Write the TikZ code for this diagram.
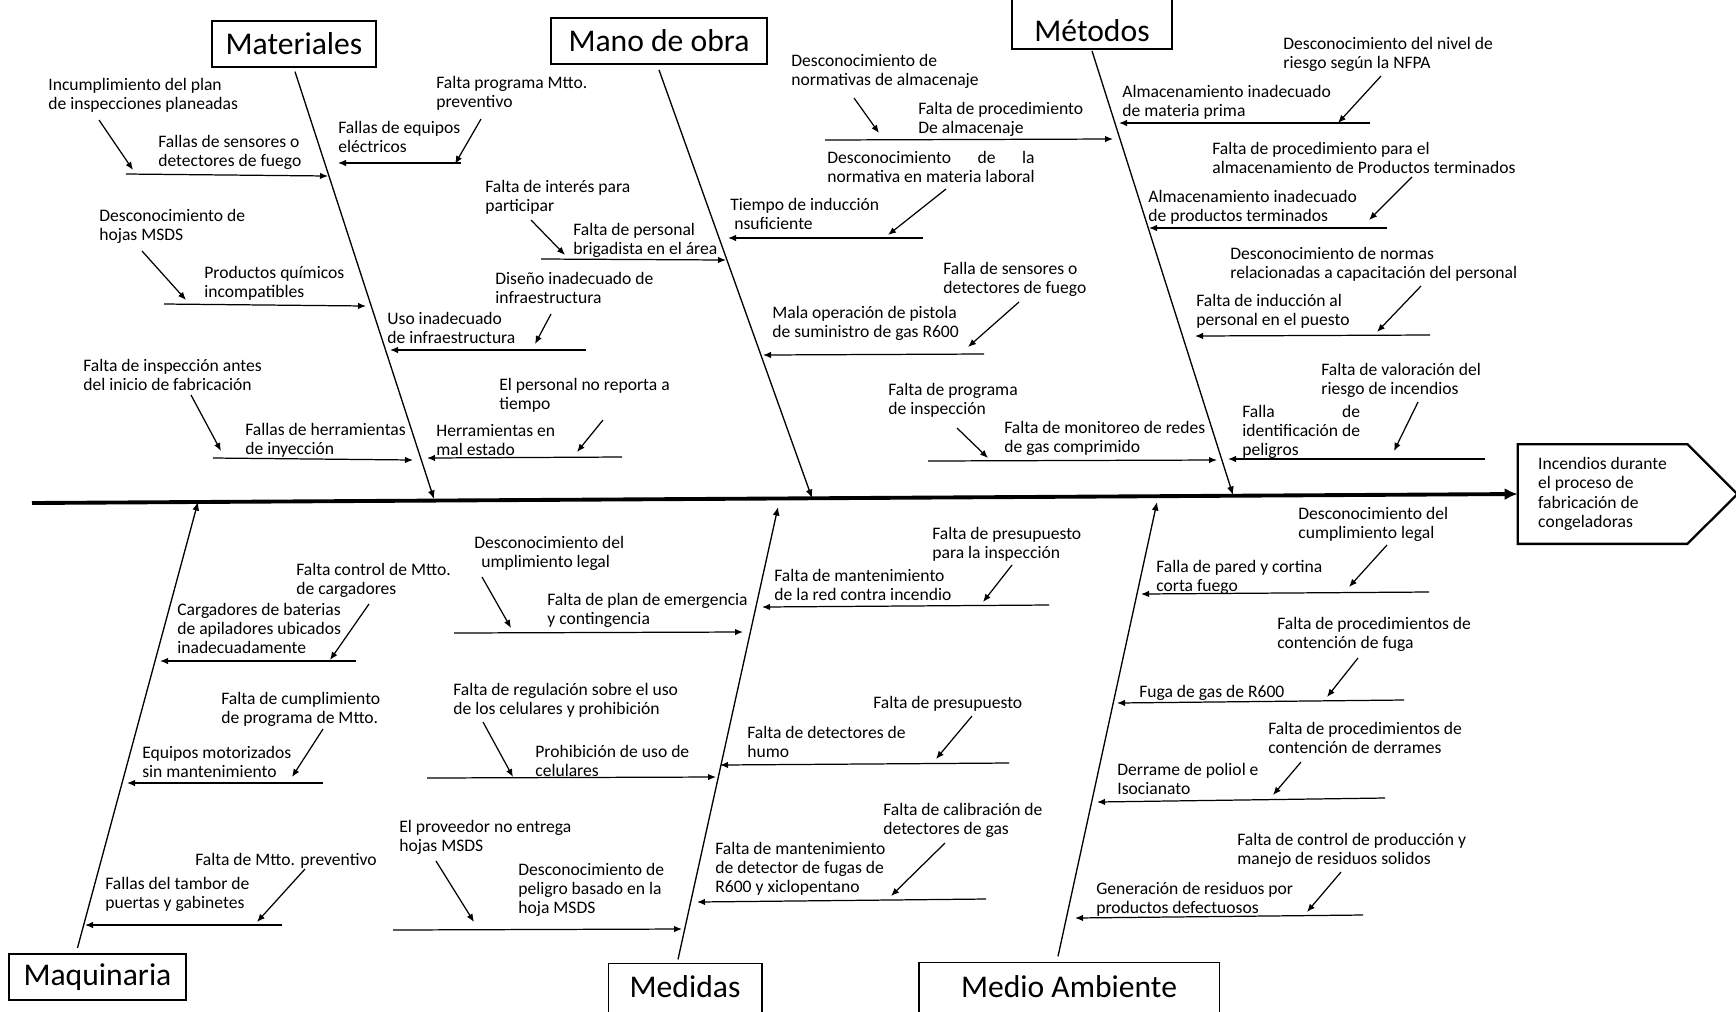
\documentclass[tikz,border=0pt]{standalone}
\usepackage{fontspec}
\setmainfont{Carlito}
\usepackage{calc}
\usetikzlibrary{arrows.meta}

\begin{document}
\begin{tikzpicture}[x=0.2mm,y=-0.2mm,
    causa/.style={font=\fontsize{10}{10.8}\selectfont,align=left,inner sep=0pt,anchor=north west},
    categoria/.style={font=\fontsize{18}{20}\selectfont,inner sep=0pt,line width=1pt},
    hueso/.style={line width=0.75pt,-{Latex[length=1.7mm,width=1.4mm]}},
    rama/.style={line width=0.7pt,-{Latex[length=1.6mm,width=1.3mm]}},
    flecha/.style={line width=0.7pt,-{Latex[length=1.6mm,width=1.3mm]}},
    espina/.style={line width=2.2pt,-{Latex[length=2.6mm,width=2.4mm]}}]
        \useasboundingbox (0,0) rectangle (1736,1011);

        \node[categoria,draw,minimum width=32.8mm,minimum height=9.1mm] (mat) at (294,44) {Materiales};
        \node[categoria,draw,minimum width=43.2mm,minimum height=9.2mm] (man) at (659,41) {Mano de obra};
        \node[categoria,minimum width=31.6mm,minimum height=6.8mm] (met) at (1092,31) {Métodos};
        \draw[line width=1pt] (met.north west |- 0,-5) -- (met.south west) -- (met.south east) -- (met.north east |- 0,-5);
        \node[categoria,draw,minimum width=35.3mm,minimum height=9.3mm] (maq) at (97.5,977) {Maquinaria};
        \node[categoria,minimum width=30.3mm,minimum height=9.1mm] (med) at (685,987) {Medidas};
        \draw[line width=1pt] (med.south west |- 0,1016) -- (med.north west) -- (med.north east) -- (med.south east |- 0,1016);
        \node[categoria,minimum width=59.8mm,minimum height=9.5mm] (amb) at (1069,987) {Medio Ambiente};
        \draw[line width=1pt] (amb.south west |- 0,1016) -- (amb.north west) -- (amb.north east) -- (amb.south east |- 0,1016);

        \node[font=\fontsize{10}{11.1}\selectfont,align=left,inner sep=0pt,minimum width=33.8mm,minimum height=19.8mm] (efecto) at (1602.5,494) {Incendios durante\\el proceso de\\fabricación de\\congeladoras};
        \draw[line width=1.3pt] (efecto.north west) -- (efecto.north east) -- ++(50,50) -- (efecto.south east) -- (efecto.south west) -- cycle;

        \coordinate (cola) at (32,503);
        \draw[espina] (cola) -- (efecto.west);

        \coordinate (matF) at (434,499);
        \coordinate (manF) at (812,498);
        \coordinate (metF) at (1233,495);
        \coordinate (maqF) at (198,502);
        \coordinate (medF) at (778,507);
        \coordinate (ambF) at (1157,502);
        \draw[hueso] (mat.south) ++(1,4) -- (matF);
        \draw[hueso] (man.south) ++(0,5) -- (manF);
        \draw[hueso] (met.south) ++(0,2) -- (metF);
        \draw[hueso] (maq.north) ++(-20,-5) -- (maqF);
        \draw[hueso] (med.north) ++(-7,-4) -- (medF);
        \draw[hueso] (amb.north) ++(-11,-6) -- (ambF);

        \node[causa] (m1c) at (48,78) {Incumplimiento del plan\\de inspecciones planeadas};
        \node[causa] (m1) at (158,135) {Fallas de sensores o\\detectores de fuego};
        \coordinate (m1a) at (99,120); \coordinate (m1b) at (133,170); \coordinate (m1i) at (126,174); \coordinate (m1f) at (328,176);
        \draw[flecha] (m1a) -- (m1b); \draw[rama] (m1i) -- (m1f);

        \node[causa] (m2c) at (99,209) {Desconocimiento de\\hojas MSDS};
        \node[causa] (m2) at (204,266) {Productos químicos\\incompatibles};
        \coordinate (m2a) at (142,251); \coordinate (m2b) at (186,300); \coordinate (m2i) at (164,304); \coordinate (m2f) at (366,306);
        \draw[flecha] (m2a) -- (m2b); \draw[rama] (m2i) -- (m2f);

        \node[causa] (m3c) at (436,76) {Falta programa Mtto.\\preventivo};
        \node[causa] (m3) at (338,121) {Fallas de equipos\\eléctricos};
        \coordinate (m3a) at (481,119); \coordinate (m3b) at (455,164); \coordinate (m3i) at (461,163); \coordinate (m3f) at (338,163);
        \draw[flecha] (m3a) -- (m3b); \draw[rama] (m3i) -- (m3f);

        \node[causa] (m4c) at (495,272) {Diseño inadecuado de\\infraestructura};
        \node[causa] (m4) at (387,312) {Uso inadecuado\\de infraestructura};
        \coordinate (m4a) at (551,314); \coordinate (m4b) at (535,344); \coordinate (m4i) at (586,350); \coordinate (m4f) at (390,350);
        \draw[flecha] (m4a) -- (m4b); \draw[rama] (m4i) -- (m4f);

        \node[causa] (m5c) at (83,359) {Falta de inspección antes\\del inicio de fabricación};
        \node[causa] (m5) at (245,423) {Fallas de herramientas\\de inyección};
        \coordinate (m5a) at (191,395); \coordinate (m5b) at (221,451); \coordinate (m5i) at (213,458); \coordinate (m5f) at (413,460);
        \draw[flecha] (m5a) -- (m5b); \draw[rama] (m5i) -- (m5f);

        \node[causa] (m6c) at (499,378) {El personal no reporta a\\tiempo};
        \node[causa] (m6) at (436,424) {Herramientas en\\mal estado};
        \coordinate (m6a) at (603,420); \coordinate (m6b) at (577,452); \coordinate (m6i) at (622,457); \coordinate (m6f) at (427,458);
        \draw[flecha] (m6a) -- (m6b); \draw[rama] (m6i) -- (m6f);

        \node[causa] (o1c) at (485,180) {Falta de interés para\\participar};
        \node[causa] (o1) at (573,223) {Falta de personal\\brigadista en el área};
        \coordinate (o1a) at (531,220); \coordinate (o1b) at (565,255); \coordinate (o1i) at (541,259); \coordinate (o1f) at (726,260);
        \draw[flecha] (o1a) -- (o1b); \draw[rama] (o1i) -- (o1f);

        \node[causa] (o2c) at (827,151) {\makebox[\widthof{normativa en materia laboral}][s]{Desconocimiento de la}\\normativa en materia laboral};
        \node[causa] (o2) at (730,198) {Tiempo de inducción\\\hspace*{0.8mm}nsuficiente};
        \coordinate (o2a) at (946,189); \coordinate (o2b) at (888,235); \coordinate (o2i) at (923,238); \coordinate (o2f) at (728,238);
        \draw[flecha] (o2a) -- (o2b); \draw[rama] (o2i) -- (o2f);

        \node[causa] (o3c) at (943,262) {Falla de sensores o\\detectores de fuego};
        \node[causa] (o3) at (772,306) {Mala operación de pistola\\de suministro de gas R600};
        \coordinate (o3a) at (1019,302); \coordinate (o3b) at (968,347); \coordinate (o3i) at (984,354); \coordinate (o3f) at (763,355);
        \draw[flecha] (o3a) -- (o3b); \draw[rama] (o3i) -- (o3f);

        \node[causa] (t1c) at (791,54) {Desconocimiento de\\normativas de almacenaje};
        \node[causa] (t1) at (918,102) {Falta de procedimiento\\De almacenaje};
        \coordinate (t1a) at (854,98); \coordinate (t1b) at (879,133); \coordinate (t1i) at (825,140); \coordinate (t1f) at (1113,139);
        \draw[flecha] (t1a) -- (t1b); \draw[rama] (t1i) -- (t1f);

        \node[causa] (t2c) at (888,383) {Falta de programa\\de inspección};
        \node[causa] (t2) at (1004,421) {Falta de monitoreo de redes\\de gas comprimido};
        \coordinate (t2a) at (957,428); \coordinate (t2b) at (988,458); \coordinate (t2i) at (928,461); \coordinate (t2f) at (1217,460);
        \draw[flecha] (t2a) -- (t2b); \draw[rama] (t2i) -- (t2f);

        \node[causa] (t3c) at (1283,37) {Desconocimiento del nivel de\\riesgo según la NFPA};
        \node[causa] (t3) at (1122,85) {Almacenamiento inadecuado\\de materia prima};
        \coordinate (t3a) at (1381,76); \coordinate (t3b) at (1338,123); \coordinate (t3i) at (1370,123); \coordinate (t3f) at (1119,123);
        \draw[flecha] (t3a) -- (t3b); \draw[rama] (t3i) -- (t3f);

        \node[causa] (t4c) at (1212,142) {Falta de procedimiento para el\\almacenamiento de Productos terminados};
        \node[causa] (t4) at (1148,190) {Almacenamiento inadecuado\\de productos terminados};
        \coordinate (t4a) at (1412,177); \coordinate (t4b) at (1369,220); \coordinate (t4i) at (1387,228); \coordinate (t4f) at (1149,228);
        \draw[flecha] (t4a) -- (t4b); \draw[rama] (t4i) -- (t4f);

        \node[causa] (t5c) at (1230,247) {Desconocimiento de normas\\relacionadas a capacitación del personal};
        \node[causa] (t5) at (1196,294) {Falta de inducción al\\personal en el puesto};
        \coordinate (t5a) at (1421,286); \coordinate (t5b) at (1377,332); \coordinate (t5i) at (1430,335); \coordinate (t5f) at (1195,336);
        \draw[flecha] (t5a) -- (t5b); \draw[rama] (t5i) -- (t5f);

        \node[causa] (t6c) at (1321,363) {Falta de valoración del\\riesgo de incendios};
        \node[causa] (t6) at (1242,405) {\makebox[\widthof{identificación de}][s]{Falla de}\\identificación de\\peligros};
        \coordinate (t6a) at (1418,402); \coordinate (t6b) at (1394,451); \coordinate (t6i) at (1485,459); \coordinate (t6f) at (1228,459);
        \draw[flecha] (t6a) -- (t6b); \draw[rama] (t6i) -- (t6f);

        \node[causa] (q1c) at (296,563) {Falta control de Mtto.\\de cargadores};
        \node[causa] (q1) at (177,603) {Cargadores de baterias\\de apiladores ubicados\\inadecuadamente};
        \coordinate (q1a) at (369,604); \coordinate (q1b) at (330,660); \coordinate (q1i) at (356,661); \coordinate (q1f) at (160,661);
        \draw[flecha] (q1a) -- (q1b); \draw[rama] (q1i) -- (q1f);

        \node[causa] (q2c) at (221,692) {Falta de cumplimiento\\de programa de Mtto.};
        \node[causa] (q2) at (142,746) {Equipos motorizados\\sin mantenimiento};
        \coordinate (q2a) at (323,729); \coordinate (q2b) at (292,777); \coordinate (q2i) at (323,783); \coordinate (q2f) at (127,783);
        \draw[flecha] (q2a) -- (q2b); \draw[rama] (q2i) -- (q2f);

        \node[causa] (q3c) at (195,853) {Falta de Mtto. preventivo};
        \node[causa] (q3) at (105,877) {Fallas del tambor de\\puertas y gabinetes};
        \coordinate (q3a) at (305,869); \coordinate (q3b) at (257,922); \coordinate (q3i) at (282,925); \coordinate (q3f) at (85,925);
        \draw[flecha] (q3a) -- (q3b); \draw[rama] (q3i) -- (q3f);

        \node[causa] (d1c) at (474,536) {Desconocimiento del\\\hspace*{1.4mm}umplimiento legal};
        \node[causa] (d1) at (547,593) {Falta de plan de emergencia\\y contingencia};
        \coordinate (d1a) at (482,577); \coordinate (d1b) at (511,628); \coordinate (d1i) at (454,633); \coordinate (d1f) at (743,632);
        \draw[flecha] (d1a) -- (d1b); \draw[rama] (d1i) -- (d1f);

        \node[causa] (d2c) at (453,683) {Falta de regulación sobre el uso\\de los celulares y prohibición};
        \node[causa] (d2) at (535,745) {Prohibición de uso de\\celulares};
        \coordinate (d2a) at (483,722); \coordinate (d2b) at (513,777); \coordinate (d2i) at (427,778); \coordinate (d2f) at (716,777);
        \draw[flecha] (d2a) -- (d2b); \draw[rama] (d2i) -- (d2f);

        \node[causa] (d3c) at (399,820) {El proveedor no entrega\\hojas MSDS};
        \node[causa] (d3) at (518,863) {Desconocimiento de\\peligro basado en la\\hoja MSDS};
        \coordinate (d3a) at (436,861); \coordinate (d3b) at (474,922); \coordinate (d3i) at (393,930); \coordinate (d3f) at (682,929);
        \draw[flecha] (d3a) -- (d3b); \draw[rama] (d3i) -- (d3f);

        \node[causa] (d4c) at (932,527) {Falta de presupuesto\\para la inspección};
        \node[causa] (d4) at (774,569) {Falta de mantenimiento\\de la red contra incendio};
        \coordinate (d4a) at (1012,565); \coordinate (d4b) at (983,602); \coordinate (d4i) at (1049,605); \coordinate (d4f) at (762,607);
        \draw[flecha] (d4a) -- (d4b); \draw[rama] (d4i) -- (d4f);

        \node[causa] (d5c) at (873,696) {Falta de presupuesto};
        \node[causa] (d5) at (747,726) {Falta de detectores de\\humo};
        \coordinate (d5a) at (972,716); \coordinate (d5b) at (936,759); \coordinate (d5i) at (1009,763); \coordinate (d5f) at (720,765);
        \draw[flecha] (d5a) -- (d5b); \draw[rama] (d5i) -- (d5f);

        \node[causa] (d6c) at (883,803) {Falta de calibración de\\detectores de gas};
        \node[causa] (d6) at (715,842) {Falta de mantenimiento\\de detector de fugas de\\R600 y xiclopentano};
        \coordinate (d6a) at (945,843); \coordinate (d6b) at (891,896); \coordinate (d6i) at (986,899); \coordinate (d6f) at (697,902);
        \draw[flecha] (d6a) -- (d6b); \draw[rama] (d6i) -- (d6f);

        \node[causa] (a1c) at (1298,507) {Desconocimiento del\\cumplimiento legal};
        \node[causa] (a1) at (1156,560) {Falla de pared y cortina\\corta fuego};
        \coordinate (a1a) at (1387,545); \coordinate (a1b) at (1349,587); \coordinate (a1i) at (1429,592); \coordinate (a1f) at (1141,594);
        \draw[flecha] (a1a) -- (a1b); \draw[rama] (a1i) -- (a1f);

        \node[causa] (a2c) at (1277,617) {Falta de procedimientos de\\contención de fuga};
        \node[causa] (a2) at (1139,685) {Fuga de gas de R600};
        \coordinate (a2a) at (1358,658); \coordinate (a2b) at (1327,697); \coordinate (a2i) at (1404,700); \coordinate (a2f) at (1117,703);
        \draw[flecha] (a2a) -- (a2b); \draw[rama] (a2i) -- (a2f);

        \node[causa] (a3c) at (1268,722) {Falta de procedimientos de\\contención de derrames};
        \node[causa] (a3) at (1117,763) {Derrame de poliol e\\Isocianato};
        \coordinate (a3a) at (1301,762); \coordinate (a3b) at (1273,795); \coordinate (a3i) at (1385,798); \coordinate (a3f) at (1097,802);
        \draw[flecha] (a3a) -- (a3b); \draw[rama] (a3i) -- (a3f);

        \node[causa] (a4c) at (1237,833) {Falta de control de producción y\\manejo de residuos solidos};
        \node[causa] (a4) at (1096,882) {Generación de residuos por\\productos defectuosos};
        \coordinate (a4a) at (1341,872); \coordinate (a4b) at (1307,912); \coordinate (a4i) at (1363,915); \coordinate (a4f) at (1075,918);
        \draw[flecha] (a4a) -- (a4b); \draw[rama] (a4i) -- (a4f);
    \end{tikzpicture}
\end{document}
